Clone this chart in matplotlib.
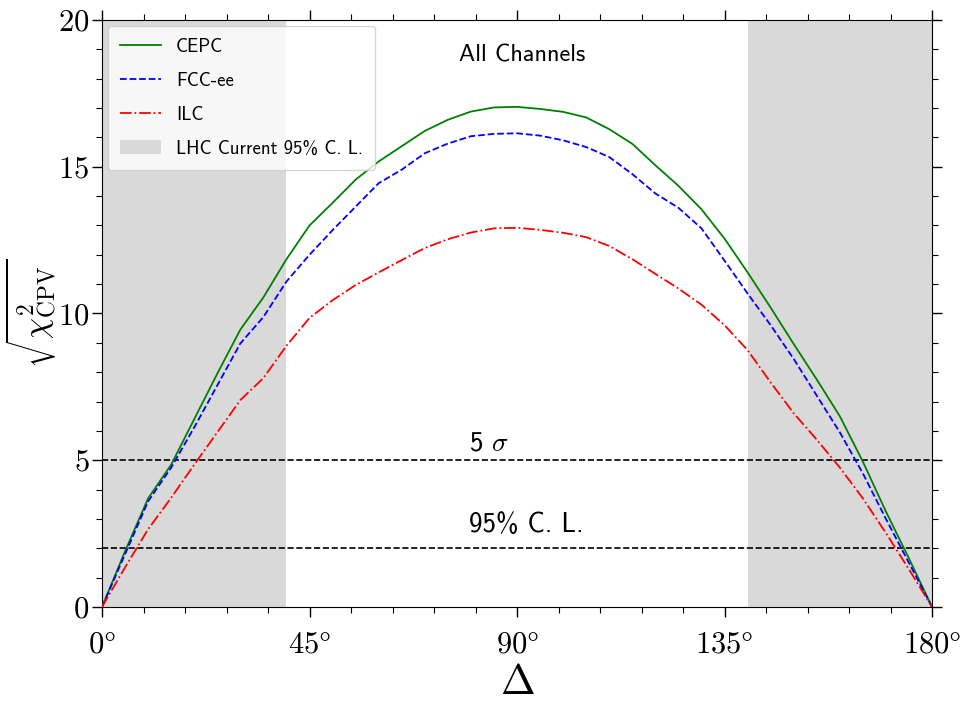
import numpy as np
import matplotlib
matplotlib.use("Agg")
import matplotlib.pyplot as plt

# === Data ===
delta = [0, 5, 10, 15, 20, 25, 30, 35, 40, 45, 50, 55, 60, 65, 70, 75, 80, 85, 90,
         95, 100, 105, 110, 115, 120, 125, 130, 135, 140, 145, 150, 155, 160, 165, 170, 175, 180]

cepc = [0, 1.9, 3.7, 4.85, 6.4, 7.95, 9.45, 10.55, 11.85, 13.0, 13.77, 14.56, 15.18, 15.7,
        16.22, 16.6, 16.88, 17.02, 17.04, 16.97, 16.87, 16.68, 16.28, 15.78, 15.05, 14.35,
        13.55, 12.55, 11.4, 10.2, 8.96, 7.75, 6.5, 4.95, 3.25, 1.65, 0]

fcc = [0, 1.8, 3.6, 4.75, 6.12, 7.55, 8.98, 9.88, 11.09, 12.0, 12.84, 13.64, 14.44, 14.9,
       15.46, 15.79, 16.04, 16.12, 16.14, 16.06, 15.9, 15.67, 15.33, 14.75, 14.09, 13.6,
       12.9, 11.8, 10.68, 9.6, 8.45, 7.2, 5.95, 4.55, 3.0, 1.5, 0]

ilc = [0, 1.35, 2.65, 3.72, 4.85, 5.95, 7.05, 7.8, 8.9, 9.85, 10.45, 10.97, 11.4, 11.82,
       12.23, 12.53, 12.76, 12.9, 12.92, 12.85, 12.75, 12.6, 12.3, 11.85, 11.35, 10.85,
       10.3, 9.6, 8.75, 7.65, 6.6, 5.7, 4.75, 3.7, 2.52, 1.28, 0]

lhc_bands = [(0, 40), (140, 180)]
sigma5 = 5
cl95 = 2
xticks = [0, 45, 90, 135, 180]

# === Style ===
plt.rcParams['mathtext.fontset'] = 'cm'
plt.rcParams['font.family'] = 'serif'
plt.rcParams['font.serif'] = ['cmr10']
plt.rcParams['axes.formatter.use_mathtext'] = True
sans = 'cmss10'

fig = plt.figure(figsize=(9.77, 7.04), dpi=100)
ax = fig.add_axes([0.1044, 0.1378, 0.8496, 0.8338])

for i, (a, b) in enumerate(lhc_bands):
    ax.axvspan(a, b, color='#d9d9d9', lw=0, zorder=0,
               label='LHC Current 95% C. L.' if i == 0 else None)

ax.plot(delta, cepc, 'g-', lw=1.3, label='CEPC', zorder=3)
ax.plot(delta, fcc, 'b--', lw=1.3, label='FCC-ee', zorder=3)
ax.plot(delta, ilc, 'r-.', lw=1.3, label='ILC', zorder=3)

ax.axhline(sigma5, color='k', ls='--', lw=1.2, zorder=2)
ax.axhline(cl95, color='k', ls='--', lw=1.2, zorder=2)

ax.text(79.5, 5.6, r'5 $\sigma$', fontsize=19.5, family=sans, va='center', ha='left')
ax.text(79.5, 2.8, '95% C. L.', fontsize=19.5, family=sans, va='center', ha='left')
ax.text(91, 18.8, 'All Channels', fontsize=17.5, family=sans, va='center', ha='center')

ax.set_xlim(0, 180)
ax.set_ylim(0, 20)
ax.set_xticks(xticks)
ax.set_xticklabels([rf'${t}\degree$' for t in xticks])
ax.set_xticks(np.arange(0, 181, 9), minor=True)
ax.set_yticks([0, 5, 10, 15, 20])
ax.set_yticks(np.arange(0, 21, 1), minor=True)
ax.tick_params(which='both', direction='out', top=True, right=True, labelsize=22)
ax.tick_params(which='major', length=7, width=1)
ax.tick_params(axis='x', which='major', pad=10)
ax.tick_params(axis='y', which='major', pad=2)
ax.tick_params(which='minor', length=4, width=0.8)

ax.set_xlabel(r'$\Delta$', fontsize=30, labelpad=5)
ax.set_ylabel(r'$\sqrt{\chi^2_{\rm CPV}}$', fontsize=24)
ax.yaxis.set_label_coords(-0.052, 0.5)

# legend order: lines first, band last
h, l = ax.get_legend_handles_labels()
order = [1, 2, 3, 0]
ax.legend([h[k] for k in order], [l[k] for k in order], loc='upper left',
          prop={'family': sans, 'size': 13.5}, framealpha=0.8, handlelength=2.2,
          labelspacing=0.85, borderpad=0.65, borderaxespad=0.3)

fig.savefig('out.png', dpi=100)
